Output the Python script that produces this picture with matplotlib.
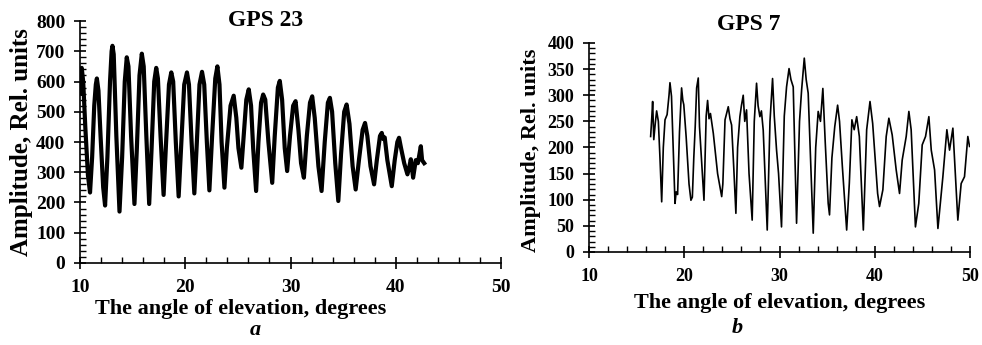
import matplotlib
matplotlib.use("Agg")
import matplotlib.pyplot as plt
from matplotlib.ticker import MultipleLocator

plt.rcParams['font.family'] = ['Liberation Serif', 'DejaVu Serif']
plt.rcParams['font.weight'] = 'bold'

# GPS 23 - peaks / troughs
gps23_angle = [
    10.0, 10.1, 10.16, 10.3, 10.5, 10.75, 10.95, 11.15, 11.35, 11.5, 11.6, 11.75,
    11.95, 12.2, 12.38, 12.6, 12.85, 13.0, 13.08, 13.2, 13.45, 13.75, 14.0, 14.25,
    14.44, 14.6, 14.85, 15.17, 15.4, 15.65, 15.87, 16.05, 16.3, 16.57, 16.8, 17.05,
    17.24, 17.4, 17.65, 17.94, 18.15, 18.45, 18.67, 18.85, 19.1, 19.37, 19.6, 19.9,
    20.16, 20.35, 20.6, 20.86, 21.1, 21.35, 21.59, 21.8, 22.05, 22.29, 22.55, 22.85,
    23.05, 23.25, 23.45, 23.72, 23.95, 24.3, 24.6, 24.85, 25.05, 25.33, 25.55, 25.8,
    26.03, 26.25, 26.45, 26.73, 26.95, 27.2, 27.4, 27.6, 27.9, 28.26, 28.5, 28.8,
    28.98, 29.2, 29.45, 29.68, 29.95, 30.25, 30.48, 30.75, 31.0, 31.27, 31.55, 31.85,
    32.06, 32.3, 32.65, 32.95, 33.25, 33.55, 33.74, 33.95, 34.25, 34.54, 34.8, 35.1,
    35.33, 35.6, 35.9, 36.19, 36.5, 36.85, 37.08, 37.3, 37.6, 37.94, 38.2, 38.5,
    38.67, 38.8, 38.95, 39.2, 39.62, 39.9, 40.15, 40.31, 40.5, 40.8, 41.11, 41.3,
    41.43, 41.65, 41.9, 42.1, 42.25, 42.38, 42.5, 42.7]
gps23_amp = [
    560, 620, 645, 600, 450, 290, 233, 350, 520, 590, 610, 570,
    420, 250, 190, 350, 600, 700, 718, 690, 420, 170, 350, 600,
    680, 650, 420, 195, 380, 620, 692, 650, 420, 195, 380, 600,
    645, 610, 420, 225, 380, 590, 630, 600, 400, 220, 380, 590,
    630, 590, 400, 230, 400, 590, 632, 590, 400, 240, 420, 610,
    650, 590, 400, 249, 380, 520, 553, 480, 380, 315, 420, 540,
    574, 520, 380, 238, 400, 530, 557, 540, 400, 265, 420, 580,
    602, 540, 380, 304, 420, 520, 535, 440, 330, 282, 420, 530,
    551, 480, 320, 238, 400, 530, 546, 500, 330, 205, 360, 500,
    524, 460, 320, 243, 340, 440, 463, 420, 320, 260, 340, 420,
    430, 410, 415, 340, 254, 340, 400, 414, 380, 330, 293, 320,
    343, 282, 340, 330, 360, 386, 340, 330]

# GPS 7
gps7_angle = [
    16.47, 16.6, 16.68, 16.8, 16.95, 17.1, 17.28, 17.45, 17.63, 17.8, 17.98, 18.2,
    18.4, 18.5, 18.66, 18.8, 19.03, 19.15, 19.3, 19.5, 19.72, 19.85, 19.95, 20.2,
    20.5, 20.7, 20.85, 21.0, 21.15, 21.3, 21.47, 21.6, 21.8, 22.07, 22.3, 22.45,
    22.6, 22.75, 23.05, 23.5, 23.93, 24.05, 24.28, 24.62, 24.8, 24.97, 25.2, 25.42,
    25.6, 25.84, 26.0, 26.19, 26.35, 26.54, 26.8, 27.13, 27.35, 27.59, 27.75, 27.94,
    28.1, 28.29, 28.71, 29.0, 29.27, 29.45, 29.69, 29.9, 30.21, 30.5, 30.74, 31.0,
    31.2, 31.44, 31.79, 32.1, 32.32, 32.6, 32.8, 33.01, 33.54, 33.8, 34.06, 34.3,
    34.55, 34.8, 35.11, 35.25, 35.5, 35.8, 36.1, 36.3, 36.6, 37.05, 37.33, 37.6,
    37.84, 38.1, 38.38, 38.8, 39.15, 39.5, 39.78, 40.3, 40.5, 40.85, 41.2, 41.48,
    41.83, 42.25, 42.6, 42.88, 43.3, 43.58, 43.82, 44.27, 44.62, 44.98, 45.33, 45.68,
    45.93, 46.28, 46.63, 47.15, 47.57, 47.85, 48.2, 48.72, 49.07, 49.42, 49.77, 49.95]
gps7_amp = [
    221, 260, 288, 215, 245, 270, 250, 180, 96, 200, 253, 263,
    300, 324, 298, 220, 93, 115, 110, 230, 314, 290, 282, 220,
    130, 99, 105, 180, 240, 314, 333, 240, 180, 99, 260, 290,
    255, 265, 227, 150, 106, 130, 253, 278, 255, 243, 160, 74,
    200, 259, 280, 300, 250, 272, 150, 61, 250, 323, 280, 259,
    270, 233, 42, 250, 332, 260, 195, 150, 48, 260, 316, 351,
    330, 316, 55, 250, 310, 371, 330, 304, 36, 200, 269, 250,
    313, 210, 93, 71, 180, 240, 281, 250, 163, 42, 132, 253,
    234, 259, 221, 42, 234, 288, 246, 112, 87, 119, 221, 256,
    224, 157, 112, 176, 221, 269, 234, 48, 93, 205, 221, 259,
    195, 157, 45, 144, 234, 195, 237, 61, 131, 144, 221, 202]

fig = plt.figure(figsize=(9.82, 3.45), dpi=100)
ax1 = fig.add_axes([0.0815, 0.2377, 0.4287, 0.7014])
ax2 = fig.add_axes([0.5998, 0.2696, 0.388, 0.6058])


def style(ax, ymax, ymaj, ymin, fs):
    ax.set_xlim(10, 50)
    ax.set_ylim(0, ymax)
    ax.xaxis.set_major_locator(MultipleLocator(10))
    ax.xaxis.set_minor_locator(MultipleLocator(2))
    ax.yaxis.set_major_locator(MultipleLocator(ymaj))
    ax.yaxis.set_minor_locator(MultipleLocator(ymin))
    for s in ['top', 'right']:
        ax.spines[s].set_visible(False)
    for s in ['left', 'bottom']:
        ax.spines[s].set_linewidth(1.2)
    ax.tick_params(which='major', direction='inout', length=9, width=1.2,
                   labelsize=fs)
    ax.tick_params(axis='x', which='major', pad=7)
    ax.tick_params(axis='y', which='major', pad=6)
    ax.tick_params(which='minor', direction='in', length=4, width=1.0)


ax1.plot(gps23_angle, gps23_amp, color='black', lw=3.0)
style(ax1, 800, 100, 20, 14)
ax1.set_ylabel('Amplitude, Rel. units', fontsize=18, fontweight='bold', va='center')
ax1.yaxis.set_label_coords(-0.138, 0.5)
ax1.set_xlabel('The angle of elevation, degrees', fontsize=16, fontweight='bold', va='center')
ax1.xaxis.set_label_coords(0.382, -0.19)

ax2.plot(gps7_angle, gps7_amp, color='black', lw=1.2)
style(ax2, 400, 50, 10, 13)
ax2.set_ylabel('Amplitude, Rel. units', fontsize=16, fontweight='bold', va='center')
ax2.yaxis.set_label_coords(-0.152, 0.488)
ax2.set_xlabel('The angle of elevation, degrees', fontsize=16, fontweight='bold', va='center')
ax2.xaxis.set_label_coords(0.501, -0.244)

fig.text(0.27, 0.942, 'GPS 23', fontsize=17, fontweight='bold', ha='center', va='center')
fig.text(0.762, 0.93, 'GPS 7', fontsize=17, fontweight='bold', ha='center', va='center')
fig.text(0.26, 0.043, 'a', fontsize=16, fontweight='bold', style='italic', ha='center', va='center')
fig.text(0.7505, 0.049, 'b', fontsize=16, fontweight='bold', style='italic', ha='center', va='center')

fig.savefig('out.png', dpi=100)
